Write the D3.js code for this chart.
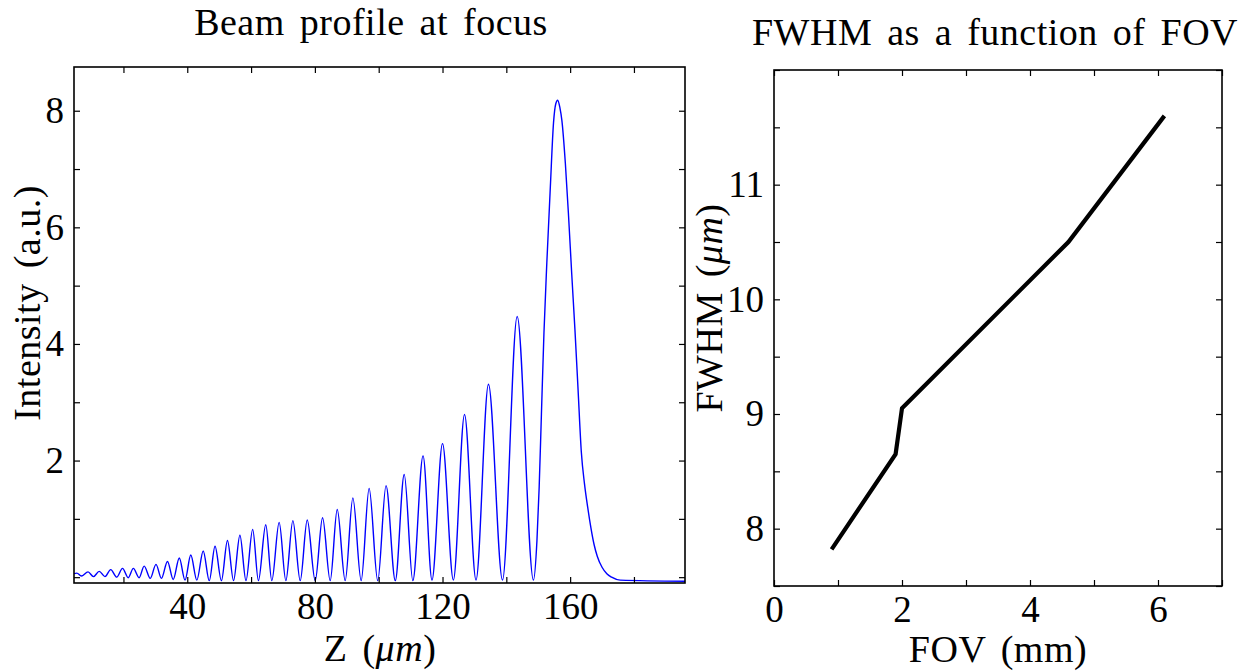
<!DOCTYPE html>
<html>
<head>
<meta charset="utf-8">
<script src="https://cdn.jsdelivr.net/npm/d3@7"></script>
<style>
  body { margin: 0; background: #fff; }
  svg { display: block; }
  text { font-family: 'Liberation Serif', 'Times New Roman', serif; fill: #000; }
  .label { letter-spacing: 0.5px; word-spacing: 5px; }
</style>
</head>
<body>
<svg id="chart" width="1248" height="672"></svg>
<script>
// ---- Beam profile at focus: intensity along Z (µm) ----
// oscillation maxima
const oscPeakZ = [5.4, 8.9, 12.4, 16.0, 19.7, 23.1, 26.5, 30.2, 33.8, 37.5, 41.1, 45.0, 48.7, 52.6, 56.5,
                  60.5, 64.6, 68.8, 73.1, 77.6, 82.4, 87.0, 91.9, 97.0, 102.3, 108.0, 113.9, 120.0, 126.9, 134.4, 143.4];
const oscPeakI = [0.07, 0.09, 0.10, 0.13, 0.15, 0.15, 0.19, 0.22, 0.27, 0.33, 0.38, 0.45, 0.53, 0.63, 0.72,
                  0.82, 0.90, 0.94, 0.97, 0.98, 1.02, 1.16, 1.36, 1.52, 1.57, 1.76, 2.08, 2.29, 2.79, 3.31, 4.47];
// oscillation minima
const oscTroughZ = [4.5, 6.8, 10.6, 14.2, 17.9, 21.5, 24.9, 28.4, 31.9, 35.6, 39.3, 43.0, 46.9, 50.7, 54.5, 58.4,
                    62.3, 66.5, 70.9, 75.4, 80.1, 84.8, 89.5, 94.5, 99.7, 105.2, 110.7, 116.7, 123.4, 130.5, 138.8, 148.5];
const oscTroughI = [0.06, 0.02, 0.01, 0.01, 0.00, -0.01, -0.01, -0.02, -0.02, -0.04, -0.05, -0.05, -0.06, -0.06, -0.06, -0.06,
                    -0.06, -0.06, -0.06, -0.06, -0.06, -0.06, -0.06, -0.06, -0.06, -0.06, -0.06, -0.05, -0.05, -0.05, -0.05, -0.05];
// main focal peak and its decaying tail
const focusZ = [149.6, 150.3, 151.0, 151.8, 152.7, 153.8, 154.8, 155.5, 156.1, 156.8, 157.4, 158.5, 159.5,
                160.5, 161.5, 162.5, 163.5, 164.5, 165.5, 166.5, 167.5, 168.5, 170.0, 171.5, 173.0, 175.7, 196.0];
const focusI = [0.63, 1.55, 2.8, 4.2, 5.4, 6.7, 7.8, 8.12, 8.18, 8.05, 7.84, 7.1, 6.2,
                5.2, 4.25, 3.2, 2.15, 1.6, 1.2, 0.85, 0.56, 0.36, 0.17, 0.06, 0.0, -0.05, -0.07];

const zDomain = [4.5, 196];
const intensityDomain = [-0.1, 8.75];
const zTicks = [20, 40, 60, 80, 100, 120, 140, 160, 180];
const zTickLabels = [40, 80, 120, 160];
const intensityTicks = [0, 1, 2, 3, 4, 5, 6, 7, 8];
const intensityTickLabels = [2, 4, 6, 8];

// ---- FWHM as a function of FOV ----
const fovValues = [0.9, 1.9, 2.0, 4.6, 6.1];
const fwhmValues = [7.82, 8.65, 9.05, 10.5, 11.6];

const fovDomain = [0, 7];
const fwhmDomain = [7.5, 12];
const fovTicks = [0, 1, 2, 3, 4, 5, 6, 7];
const fovTickLabels = [0, 2, 4, 6];
const fwhmTicks = [7.5, 8, 8.5, 9, 9.5, 10, 10.5, 11, 11.5, 12];
const fwhmTickLabels = [8, 9, 10, 11];

const FONT = 37;
const LABEL_FONT = 38;
const TICK = 6;
const svg = d3.select('#chart');

function framedAxes(g, x, y, xt, xl, yt, yl) {
  const [x0, x1] = x.range();
  const [y0, y1] = y.range();
  const fmt = labels => d => labels.includes(d) ? d : '';
  const style = sel => {
    sel.select('.domain').remove();
    sel.selectAll('.tick line').attr('stroke', '#000').attr('stroke-width', 1.2);
    sel.selectAll('.tick text').style('font-size', FONT + 'px').attr('fill', '#000');
  };
  g.append('g').attr('transform', `translate(0,${y0})`)
    .call(d3.axisBottom(x).tickValues(xt).tickSizeInner(-TICK).tickSizeOuter(0).tickPadding(9).tickFormat(fmt(xl)))
    .call(style)
    .selectAll('.tick text').attr('dy', '0.74em');
  g.append('g').attr('transform', `translate(0,${y1})`)
    .call(d3.axisTop(x).tickValues(xt).tickSizeInner(-TICK).tickSizeOuter(0).tickFormat(''))
    .call(style);
  g.append('g').attr('transform', `translate(${x0},0)`)
    .call(d3.axisLeft(y).tickValues(yt).tickSizeInner(-TICK).tickSizeOuter(0).tickPadding(10).tickFormat(fmt(yl)))
    .call(style);
  g.append('g').attr('transform', `translate(${x1},0)`)
    .call(d3.axisRight(y).tickValues(yt).tickSizeInner(-TICK).tickSizeOuter(0).tickFormat(''))
    .call(style);
  g.append('rect')
    .attr('x', x0).attr('y', y1).attr('width', x1 - x0).attr('height', y0 - y1)
    .attr('fill', 'none').attr('stroke', '#000').attr('stroke-width', 1.6);
}

function muLabel(sel, before, after) {
  sel.append('tspan').text(before);
  sel.append('tspan').style('font-style', 'italic').text('μm');
  sel.append('tspan').text(after);
}

// ---------- left panel ----------
{
  const x = d3.scaleLinear().domain(zDomain).range([74, 685]);
  const y = d3.scaleLinear().domain(intensityDomain).range([583, 67]);
  const g = svg.append('g');

  const pts = [];
  oscPeakZ.forEach((z, i) => pts.push([z, oscPeakI[i]]));
  oscTroughZ.forEach((z, i) => pts.push([z, oscTroughI[i]]));
  focusZ.forEach((z, i) => pts.push([z, focusI[i]]));
  pts.sort((a, b) => a[0] - b[0]);

  g.append('path')
    .datum(pts)
    .attr('fill', 'none')
    .attr('stroke', '#0000ff')
    .attr('stroke-width', 1.4)
    .attr('d', d3.line().x(d => x(d[0])).y(d => y(d[1])).curve(d3.curveMonotoneX));

  framedAxes(g, x, y, zTicks, zTickLabels, intensityTicks, intensityTickLabels);

  g.append('text').attr('class', 'label').attr('x', 371).attr('y', 35).attr('text-anchor', 'middle')
    .style('font-size', LABEL_FONT + 'px').text('Beam profile at focus');

  muLabel(g.append('text').attr('class', 'label').attr('x', 380).attr('y', 661).attr('text-anchor', 'middle')
    .style('font-size', LABEL_FONT + 'px'), 'Z (', ')');

  g.append('text').attr('class', 'label').attr('transform', 'translate(40,303) rotate(-90)').attr('text-anchor', 'middle')
    .style('font-size', LABEL_FONT + 'px').text('Intensity (a.u.)');
}

// ---------- right panel ----------
{
  const x = d3.scaleLinear().domain(fovDomain).range([774, 1222]);
  const y = d3.scaleLinear().domain(fwhmDomain).range([586, 70]);
  const g = svg.append('g');

  g.append('path')
    .datum(fovValues.map((f, i) => [f, fwhmValues[i]]))
    .attr('fill', 'none')
    .attr('stroke', '#000')
    .attr('stroke-width', 4.2)
    .attr('d', d3.line().x(d => x(d[0])).y(d => y(d[1])));

  framedAxes(g, x, y, fovTicks, fovTickLabels, fwhmTicks, fwhmTickLabels);

  g.append('text').attr('class', 'label').attr('x', 995).attr('y', 45).attr('text-anchor', 'middle')
    .style('font-size', LABEL_FONT + 'px').text('FWHM as a function of FOV');

  g.append('text').attr('class', 'label').attr('x', 998).attr('y', 662).attr('text-anchor', 'middle')
    .style('font-size', LABEL_FONT + 'px').text('FOV (mm)');

  muLabel(g.append('text').attr('class', 'label').attr('transform', 'translate(722,308) rotate(-90)').attr('text-anchor', 'middle')
    .style('font-size', LABEL_FONT + 'px'), 'FWHM (', ')');
}
</script>
</body>
</html>
